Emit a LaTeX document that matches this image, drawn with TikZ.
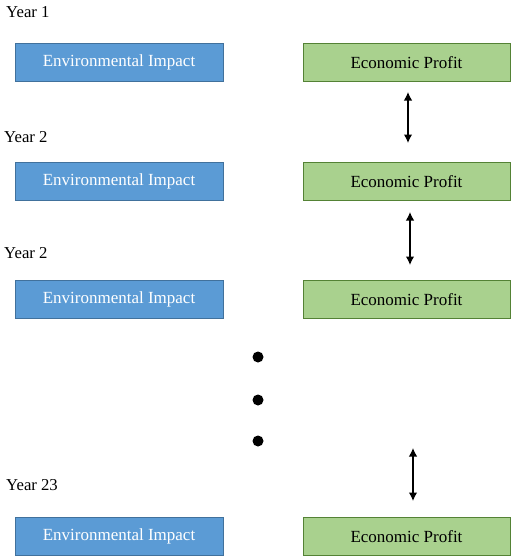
\documentclass[tikz,border=0pt]{standalone}
\usepackage{fontspec}
\setmainfont{Liberation Serif}
\newfontfamily\timesfont{Liberation Serif}
\usetikzlibrary{arrows.meta}
\definecolor{impactblue}{RGB}{91,155,213}
\definecolor{impactedge}{RGB}{65,113,156}
\definecolor{profitgreen}{RGB}{169,209,142}
\definecolor{profitedge}{RGB}{84,130,53}
\tikzset{
  impact/.style={draw=impactedge,fill=impactblue,text=white,line width=0.9pt,
    minimum width=208pt,minimum height=38pt,inner sep=0pt,font=\timesfont\fontsize{17}{18}\selectfont},
  profit/.style={draw=profitedge,fill=profitgreen,text=black,line width=0.9pt,
    minimum width=207pt,minimum height=38pt,inner sep=0pt,font=\timesfont\fontsize{17}{18}\selectfont},
  yearlabel/.style={anchor=base west,inner sep=0pt,font=\timesfont\fontsize{16.7}{18}\selectfont}
}
\begin{document}
\begin{tikzpicture}[x=1pt,y=-1pt]
\useasboundingbox (0,0) rectangle (511,557);

\node [yearlabel] (y1) at (6,17) {Year 1};
\node [yearlabel] (y2) at (4,142) {Year 2};
\node [yearlabel] (y3) at (4,258) {Year 2};
\node [yearlabel] (y4) at (6,490) {Year 23};

\node [impact] (ei1) at (119,62) {Environmental Impact};
\node [impact] (ei2) at (119,181) {Environmental Impact};
\node [impact] (ei3) at (119,299) {Environmental Impact};
\node [impact] (ei4) at (119,536) {Environmental Impact};

\node [profit] (ep1) at (406.5,62.5) {Economic Profit};
\node [profit] (ep2) at (406.5,181.5) {Economic Profit};
\node [profit] (ep3) at (406.5,299.5) {Economic Profit};
\node [profit] (ep4) at (406.5,536.5) {Economic Profit};

% arrows between years
\coordinate (a1) at (408,92);  \coordinate (b1) at (408,143);
\coordinate (a2) at (410,212); \coordinate (b2) at (410,265);
\coordinate (a3) at (413,448); \coordinate (b3) at (413,501);
\foreach \i in {1,2,3}
  \draw [line width=1.3pt,{Latex[length=8.5pt,width=8.5pt]}-{Latex[length=8.5pt,width=8.5pt]}] (a\i)--(b\i);

% dots
\foreach \y in {357,400,441}
  \fill (258,\y) circle (5.5);

\end{tikzpicture}
\end{document}
